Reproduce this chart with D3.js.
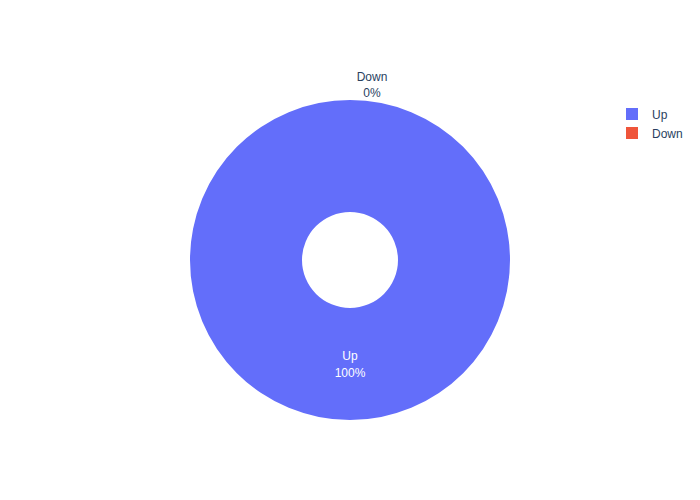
<!DOCTYPE html>
<html>
<head>
<meta charset="utf-8">
<script src="https://cdn.jsdelivr.net/npm/d3@7"></script>
<style>
  body { margin: 0; background: #fff; }
  text { font-family: "Liberation Sans", Arial, sans-serif; }
</style>
</head>
<body>
<script>
var labels = ["Up", "Down"];
var values = [1, 0];
var colors = ["#636efa", "#EF553B"];

var width = 700, height = 500;
var cx = 350, cy = 260;
var outerR = 160, innerR = 48;

var svg = d3.select("body").append("svg")
    .attr("width", width)
    .attr("height", height);

var total = d3.sum(values);
var pie = d3.pie().sort(null).value(function(d) { return d.value; });
var arcs = pie(labels.map(function(l, i) { return {label: l, value: values[i], color: colors[i]}; }));

var arc = d3.arc().innerRadius(innerR).outerRadius(outerR);

var g = svg.append("g").attr("transform", "translate(" + cx + "," + cy + ")");

g.selectAll("path")
    .data(arcs)
    .enter().append("path")
    .attr("d", arc)
    .style("fill", function(d) { return d.data.color; })
    .style("stroke", "#fff")
    .style("stroke-width", 0);

// labels: inside for the slice that has room, outside for the empty one
arcs.forEach(function(d) {
    var pct = Math.round(d.data.value / total * 100) + "%";
    var t;
    if (d.endAngle - d.startAngle > 0.1) {
        var c = arc.centroid(d);
        t = g.append("text")
            .attr("x", c[0]).attr("y", c[1])
            .attr("text-anchor", "middle")
            .style("fill", "#fff")
            .style("font-size", "12px");
        t.append("tspan").attr("x", c[0]).attr("dy", "-0.3em").text(d.data.label);
        t.append("tspan").attr("x", c[0]).attr("dy", "1.35em").text(pct);
    } else {
        var a = d.startAngle;
        var px = Math.sin(a) * outerR + 22, py = -Math.cos(a) * outerR - 3;
        t = g.append("text")
            .attr("x", px).attr("y", py)
            .attr("text-anchor", "middle")
            .style("fill", "#2a3f5f")
            .style("font-size", "12px");
        t.append("tspan").attr("x", px).attr("dy", "-1.35em").text(d.data.label);
        t.append("tspan").attr("x", px).attr("dy", "1.35em").text(pct);
    }
});

// legend
var legend = svg.selectAll(".legend")
    .data(arcs)
    .enter().append("g")
    .attr("class", "legend")
    .attr("transform", function(d, i) { return "translate(626," + (108 + i * 19) + ")"; });

legend.append("rect")
    .attr("width", 12)
    .attr("height", 12)
    .style("fill", function(d) { return d.data.color; });

legend.append("text")
    .attr("x", 26)
    .attr("y", 7)
    .attr("dy", ".35em")
    .style("font-size", "12px")
    .style("fill", "#2a3f5f")
    .text(function(d) { return d.data.label; });
</script>
</body>
</html>
